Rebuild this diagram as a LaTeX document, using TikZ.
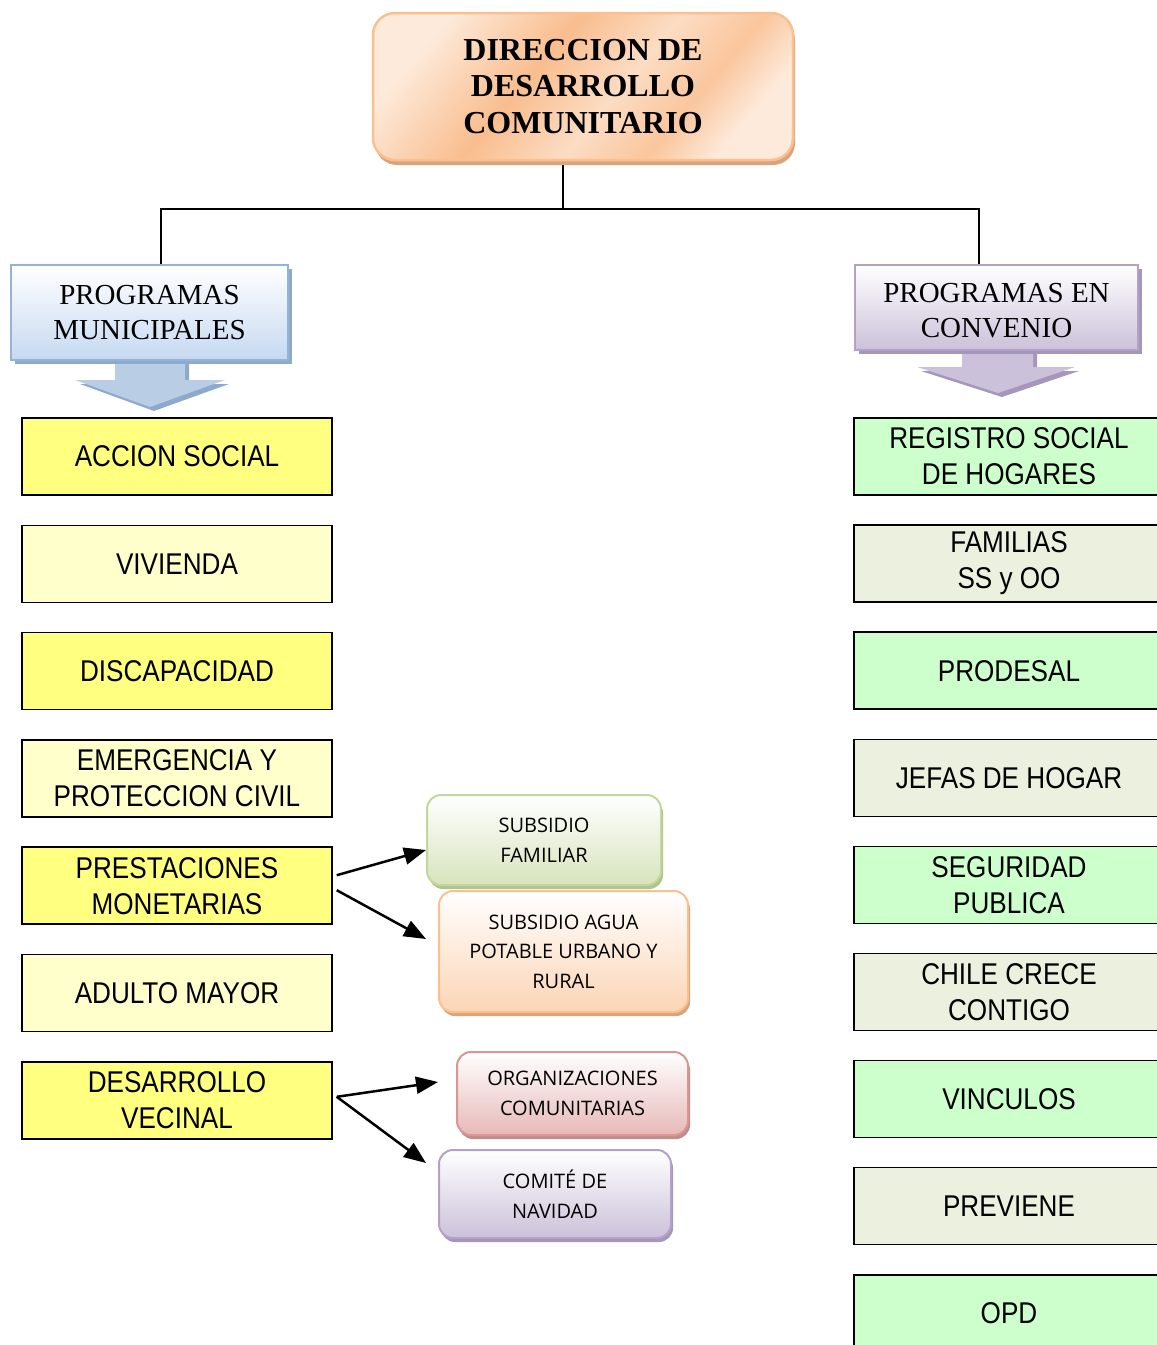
\documentclass[tikz,border=0pt]{standalone}
\usepackage{fontspec}
\setmainfont{Liberation Serif}
\newfontfamily\narrowsans[FakeStretch=0.87]{Liberation Sans}
\newfontfamily\roundsans{Open Sans}
\usetikzlibrary{arrows.meta,shadows}

\definecolor{yelA}{HTML}{FFFF80}
\definecolor{yelB}{HTML}{FFFFCC}
\definecolor{grnA}{HTML}{CCFFCC}
\definecolor{grnB}{HTML}{EBF1DE}
\definecolor{orL}{HTML}{FDEADA}
\definecolor{orD}{HTML}{F9BD8E}
\definecolor{orB}{HTML}{FAC090}
\definecolor{orS}{HTML}{D9A47C}
\definecolor{bluB}{HTML}{95B3D7}
\definecolor{bluF}{HTML}{C6D9F1}
\definecolor{bluA}{HTML}{B9CDE5}
\definecolor{bluS}{HTML}{8EA9CE}
\definecolor{vioB}{HTML}{B3A2C7}
\definecolor{vioF}{HTML}{CCC1DA}
\definecolor{vioS}{HTML}{A596BA}
\definecolor{sgrB}{HTML}{C3D69B}
\definecolor{sgrF}{HTML}{D7E4BD}
\definecolor{sgrS}{HTML}{AFC38A}
\definecolor{pchB}{HTML}{FAC090}
\definecolor{pchF}{HTML}{FCD5B5}
\definecolor{pchS}{HTML}{D9A47C}
\definecolor{redB}{HTML}{D99694}
\definecolor{redF}{HTML}{E6B9B8}
\definecolor{redS}{HTML}{BF8C8A}

\pgfdeclarehorizontalshading{dirshade}{100bp}{color(0bp)=(orL); color(25bp)=(orL);
  color(42bp)=(orD); color(55bp)=(orL!70!orD); color(66bp)=(orD!80!orL); color(75bp)=(orL); color(100bp)=(orL)}

\begin{document}
\begin{tikzpicture}[x=1pt,y=-1pt,>={Triangle[length=22pt,width=17pt]},
  prog/.style={draw=black, line width=1.5pt, minimum width=310pt, minimum height=77pt,
    inner sep=0pt, align=center, font=\narrowsans\fontsize{30}{36}\selectfont},
  head/.style={line width=2.5pt, align=center, inner sep=0pt,
    font=\fontsize{29}{35}\selectfont},
  sub/.style={rounded corners=14pt, line width=2pt, align=center, inner sep=0pt,
    font=\roundsans\fontsize{20}{29.5}\selectfont},
  link/.style={->, line width=2.5pt}]
  \clip (0,0) rectangle (1157,1345);

  % tree lines
  \coordinate (hub) at (563,209);
  \coordinate (pmtop) at (161,265);
  \coordinate (pctop) at (979,265);
  \draw[line width=1.5pt] (563,160) -- (hub);
  \draw[line width=1.5pt] (pmtop) |- (hub) -| (pctop);

  % down arrows under the headers
  \fill[bluS] (119,363) -- (119,384) -- (80,384) -- (154,411) -- (229,384) -- (189,384) -- (189,363) -- cycle;
  \fill[bluA] (115,360) -- (115,380) -- (75,380) -- (150,407) -- (225,380) -- (185,380) -- (185,360) -- cycle;
  \fill[vioS] (966,353) -- (966,371) -- (921,371) -- (1002,397) -- (1079,371) -- (1037,371) -- (1037,353) -- cycle;
  \fill[vioF] (962,350) -- (962,367) -- (917,367) -- (998,393) -- (1075,367) -- (1033,367) -- (1033,350) -- cycle;

  % main box
  \node[draw=orB, line width=2.5pt, rounded corners=22pt, minimum width=420pt, minimum height=147pt,
    inner sep=0pt, align=center, shading=dirshade, shading angle=-40,
    drop shadow={shadow xshift=2pt, shadow yshift=-5pt, fill=orS, opacity=1},
    font=\bfseries\fontsize{32}{36.5}\selectfont] (dir) at (583,86.5)
    {DIRECCION DE\\DESARROLLO\\COMUNITARIO};

  % headers
  \node[head, draw=bluB, top color=white, bottom color=bluF, minimum width=277pt, minimum height=95pt,
    drop shadow={shadow xshift=4pt, shadow yshift=-4pt, fill=bluS, opacity=1}] (pm) at (149.5,312.5)
    {PROGRAMAS\\MUNICIPALES};
  \node[head, draw=vioB, top color=white, bottom color=vioF, minimum width=283pt, minimum height=85pt,
    drop shadow={shadow xshift=4pt, shadow yshift=-4pt, fill=vioS, opacity=1}] (pc) at (996.5,307.5)
    {\rule{0pt}{25pt}PROGRAMAS EN\\CONVENIO};

  % municipal programs
  \foreach \i/\txt/\col in {1/ACCION SOCIAL/yelA, 2/VIVIENDA/yelB, 3/DISCAPACIDAD/yelA,
      4/{EMERGENCIA Y\\PROTECCION CIVIL}/yelB, 5/{PRESTACIONES\\MONETARIAS}/yelA,
      6/ADULTO MAYOR/yelB, 7/{DESARROLLO\\VECINAL}/yelA}
    \node[prog, fill=\col] (m\i) at (177,{456.5+107.3*(\i-1)}) {\txt};

  % programs by agreement
  \foreach \i/\txt/\col in {1/{REGISTRO SOCIAL\\DE HOGARES}/grnA, 2/{FAMILIAS\\SS y OO}/grnB,
      3/PRODESAL/grnA, 4/JEFAS DE HOGAR/grnB, 5/{SEGURIDAD\\PUBLICA}/grnA,
      6/{CHILE CRECE\\CONTIGO}/grnB, 7/VINCULOS/grnA, 8/PREVIENE/grnB, 9/OPD/grnA}
    \node[prog, fill=\col] (c\i) at (1009,{456.5+107.1*(\i-1)}) {\txt};

  % sub programs
  \node[sub, draw=sgrB, top color=white, bottom color=sgrF, minimum width=234pt, minimum height=90pt,
    drop shadow={shadow xshift=2pt, shadow yshift=-4pt, fill=sgrS, opacity=1}] (sf) at (544,840)
    {SUBSIDIO\\FAMILIAR};
  \node[sub, draw=pchB, top color=white, bottom color=pchF, minimum width=249pt, minimum height=121pt,
    drop shadow={shadow xshift=2pt, shadow yshift=-4pt, fill=pchS, opacity=1}] (sa) at (563.5,951.5)
    {SUBSIDIO AGUA\\POTABLE URBANO Y\\RURAL};
  \node[sub, draw=redB, top color=white, bottom color=redF, minimum width=231pt, minimum height=83pt,
    drop shadow={shadow xshift=2pt, shadow yshift=-4pt, fill=redS, opacity=1}] (oc) at (572.5,1093.5)
    {ORGANIZACIONES\\COMUNITARIAS};
  \node[sub, draw=vioB, top color=white, bottom color=vioF, minimum width=232pt, minimum height=88pt,
    drop shadow={shadow xshift=2pt, shadow yshift=-4pt, fill=vioS, opacity=1}] (cn) at (555,1194)
    {COMITÉ DE\\NAVIDAD};

  % links
  \draw[link] ([xshift=4pt,yshift=10.5pt]m5.east) -- ([yshift=-10pt]sf.west);
  \draw[link] ([xshift=4pt,yshift=-4.5pt]m5.east) -- ([xshift=-12pt,yshift=12.5pt]sa.west);
  \draw[link] ([xshift=4pt,yshift=3.5pt]m7.east) -- ([xshift=-18pt,yshift=11.5pt]oc.west);
  \draw[link] ([xshift=4pt,yshift=3.5pt]m7.east) -- ([xshift=-12pt,yshift=31pt]cn.west);
\end{tikzpicture}
\end{document}
